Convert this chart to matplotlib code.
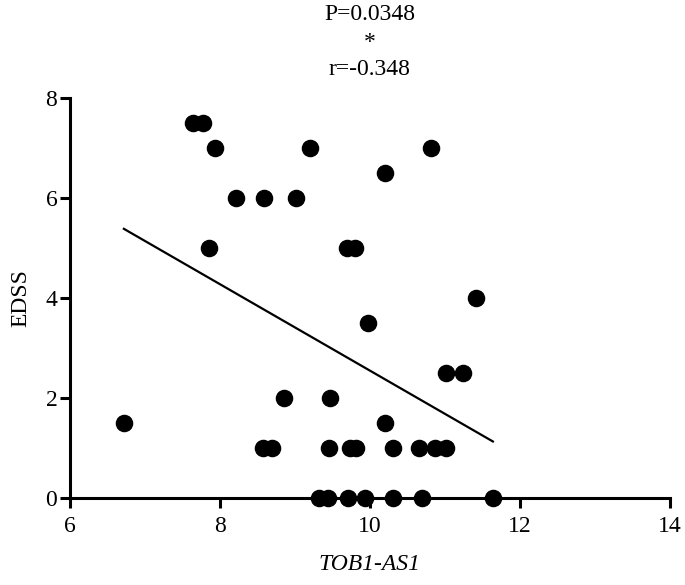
import numpy as np
import matplotlib
matplotlib.use("Agg")
from matplotlib import pyplot as plt

# TOB1-AS1 expression vs EDSS
tob1_as1 = [7.64, 7.78, 7.93, 9.20, 10.82, 10.20, 8.21, 8.59, 9.01, 7.85,
            9.69, 9.80, 11.42, 9.98, 11.02, 11.24, 8.85, 9.47, 6.72, 10.20,
            8.58, 8.69, 9.46, 9.73, 9.82, 10.31, 10.66, 10.87, 11.02,
            9.32, 9.44, 9.71, 9.93, 10.31, 10.69, 11.64]
edss = [7.5, 7.5, 7.0, 7.0, 7.0, 6.5, 6.0, 6.0, 6.0, 5.0,
        5.0, 5.0, 4.0, 3.5, 2.5, 2.5, 2.0, 2.0, 1.5, 1.5,
        1.0, 1.0, 1.0, 1.0, 1.0, 1.0, 1.0, 1.0, 1.0,
        0.0, 0.0, 0.0, 0.0, 0.0, 0.0, 0.0]
x_ticks = [6, 8, 10, 12, 14]
y_ticks = [0, 2, 4, 6, 8]
title_lines = ["P=0.0348", "*", "r=-0.348"]

plt.rcParams['font.family'] = ['Liberation Serif', 'DejaVu Serif']

x = np.array(tob1_as1)
y = np.array(edss)

fig = plt.figure(figsize=(6.85, 5.85), dpi=100)
ax = fig.add_axes([0.102, 0.1487, 0.876, 0.6838])

ax.scatter(x, y, s=135, color="black", zorder=3, clip_on=False)

# linear fit over the data range
slope, icpt = np.polyfit(x, y, 1)
xx = np.array([x.min(), x.max()])
ax.plot(xx, slope * xx + icpt, color="black", lw=1.6)

ax.set_xlim(6, 14)
ax.set_ylim(0, 8)
ax.set_xticks(x_ticks)
ax.set_yticks(y_ticks)
for s in ["top", "right"]:
    ax.spines[s].set_visible(False)
for s in ["left", "bottom"]:
    ax.spines[s].set_linewidth(2.2)
ax.tick_params(axis="x", direction="out", length=7, width=2.2, labelsize=17, pad=6)
ax.tick_params(axis="y", direction="out", length=7, width=2.2, labelsize=17, pad=2)

ax.set_xlabel("TOB1-AS1", fontsize=17, fontstyle="italic", labelpad=12)
ax.set_ylabel("EDSS", fontsize=17, labelpad=10)

for i, t in enumerate(title_lines):
    fig.text(0.54, 0.975 - i * 0.047, t, ha="center", va="center", fontsize=17)

fig.savefig("out.png", dpi=100)
